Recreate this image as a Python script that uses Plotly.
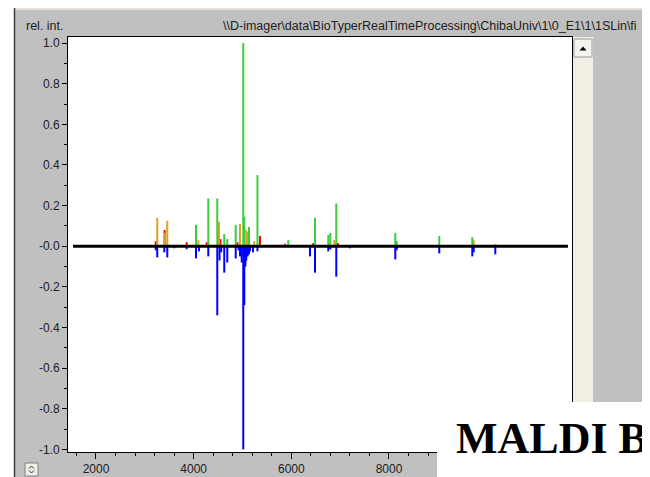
import plotly.graph_objects as go

# ---------------- data ----------------
green_mz = [4048, 4300, 4484, 4627, 4689, 4861, 5016, 5037, 5133, 5307,
            5938, 6485, 6757, 6798, 6921, 8129, 8158, 9030, 9706]
green_int = [0.105, 0.235, 0.235, 0.06, 0.035, 0.105, 1.0, 0.145, 0.095, 0.35,
             0.03, 0.14, 0.055, 0.065, 0.21, 0.065, 0.025, 0.05, 0.045]

orange_mz = [3255, 3405, 3460, 4095, 4519, 4949, 5078, 5107, 5242, 6880, 9735, 10177]
orange_int = [0.14, 0.065, 0.125, 0.03, 0.12, 0.11, 0.08, 0.07, 0.025, 0.03, 0.03, 0.01]

red_mz = [3223, 3405, 3857, 4267, 4550, 4898, 5358, 5870, 6450, 6956]
red_int = [0.025, 0.08, 0.02, 0.02, 0.035, 0.02, 0.05, 0.012, 0.015, 0.015]

blue_mz = [3223, 3255, 3399, 3460, 3603, 3857, 4048, 4109, 4300, 4484, 4530, 4565,
           4627, 4689, 4861, 4920, 4949, 4984, 5016, 5037, 5060, 5078, 5107, 5133,
           5154, 5215, 5307, 6382, 6485, 6757, 6798, 6921, 7201, 8129, 8158, 9030,
           9706, 9735, 10177]
blue_int = [-0.02, -0.055, -0.03, -0.055, -0.01, -0.015, -0.06, -0.025, -0.05, -0.34, -0.07, -0.03,
            -0.13, -0.08, -0.06, -0.02, -0.05, -0.08, -1.0, -0.29, -0.1, -0.07, -0.05, -0.04,
            -0.025, -0.03, -0.025, -0.05, -0.13, -0.025, -0.015, -0.15, -0.01, -0.065, -0.02, -0.035,
            -0.05, -0.03, -0.04]

baseline_mz = [1530, 11665]
baseline_int = [0, 0]

x_tickvals = [2000, 4000, 6000, 8000, 10000]
x_ticktext = ["2000", "4000", "6000", "8000", "10000"]
y_tickvals = [1.0, 0.8, 0.6, 0.4, 0.2, 0.0, -0.2, -0.4, -0.6, -0.8, -1.0]
y_ticktext = ["1.0", "0.8", "0.6", "0.4", "0.2", "-0.0", "-0.2", "-0.4", "-0.6", "-0.8", "-1.0"]

path_text = r"\\D-imager\data\BioTyperRealTimeProcessing\ChibaUniv\1\0_E1\1\1SLin\fi"

# ---------------- figure ----------------
# The page has an 8px body margin, so the figure is 642x469 and sits at (8, 8).
OFF = 8
SW, SH = 650, 477            # screen size
W, H = SW - OFF, SH - OFF    # figure size
L, R, T, B = 68, 572, 37, 452  # plot area in screen pixels


def px(x):
    return (x - L) / (R - L)


def py(y):
    return (B - y) / (B - T)


UI_FONT = "Liberation Sans, Arial, sans-serif"
BAR_W = 41

fig = go.Figure()
fig.add_trace(go.Bar(x=red_mz, y=red_int, width=BAR_W, marker_color="#ff0000",
                     marker_line_width=0))
fig.add_trace(go.Bar(x=orange_mz, y=orange_int, width=BAR_W, marker_color="#dca226",
                     marker_line_width=0))
fig.add_trace(go.Bar(x=green_mz, y=green_int, width=BAR_W, marker_color="#3ccc3c",
                     marker_line_width=0))
fig.add_trace(go.Bar(x=blue_mz, y=blue_int, width=BAR_W, marker_color="#0000ff",
                     marker_line_width=0))
fig.add_trace(go.Scatter(x=baseline_mz, y=baseline_int, mode="lines",
                         line=dict(color="black", width=3)))

shapes = []
# white left strip and dark frame line
shapes.append(dict(type="rect", xref="paper", yref="paper", x0=px(0), x1=px(14),
                   y0=py(478), y1=py(0), fillcolor="white", line_width=0, layer="below"))
shapes.append(dict(type="rect", xref="paper", yref="paper", x0=px(14), x1=px(651),
                   y0=py(8), y1=py(0), fillcolor="white", line_width=0, layer="below"))
shapes.append(dict(type="rect", xref="paper", yref="paper", x0=px(14), x1=px(651),
                   y0=py(10), y1=py(8), fillcolor="#e4e0cc", line_width=0, layer="below"))
shapes.append(dict(type="line", xref="paper", yref="paper", x0=px(14.5), x1=px(14.5),
                   y0=py(478), y1=py(7), line=dict(color="#404040", width=1.5), layer="below"))
# scrollbar
shapes.append(dict(type="rect", xref="paper", yref="paper", x0=px(573), x1=px(593),
                   y0=py(402), y1=py(37), fillcolor="#f1efe4", line_width=0, layer="below"))
shapes.append(dict(type="rect", xref="paper", yref="paper", x0=px(574), x1=px(592),
                   y0=py(57), y1=py(39), fillcolor="#f4f3ee",
                   line=dict(color="#9a9a9a", width=1), layer="below"))
shapes.append(dict(type="path", xref="paper", yref="paper",
                   path="M {} {} L {} {} L {} {} Z".format(px(579.5), py(50.5), px(586.5), py(50.5),
                                                           px(583), py(46.5)),
                   fillcolor="black", line_width=0, layer="below"))
# bottom-left spinner widget
shapes.append(dict(type="rect", xref="paper", yref="paper", x0=px(25), x1=px(38),
                   y0=py(476), y1=py(463), fillcolor="#f0efe8",
                   line=dict(color="#808080", width=1), layer="below"))
shapes.append(dict(type="path", xref="paper", yref="paper",
                   path="M {} {} L {} {} L {} {}".format(px(29), py(468.5), px(31.5), py(466),
                                                         px(34), py(468.5)),
                   line=dict(color="#303030", width=1), layer="below"))
shapes.append(dict(type="path", xref="paper", yref="paper",
                   path="M {} {} L {} {} L {} {}".format(px(29), py(470.5), px(31.5), py(473),
                                                         px(34), py(470.5)),
                   line=dict(color="#303030", width=1), layer="below"))
# white slide area covering bottom-right
shapes.append(dict(type="rect", xref="paper", yref="paper", x0=px(437), x1=px(652),
                   y0=py(479), y1=py(402), fillcolor="white", line_width=0, layer="above"))

annotations = [
    dict(text="rel. int.", xref="paper", yref="paper", x=px(24), y=py(26),
         xanchor="left", yanchor="middle", showarrow=False,
         font=dict(family=UI_FONT, size=12.5, color="#202020")),
    dict(text=path_text, xref="paper", yref="paper", x=px(221), y=py(26),
         xanchor="left", yanchor="middle", showarrow=False,
         font=dict(family=UI_FONT, size=12.5, color="#202020")),
    dict(text="<b>MALDI B</b>", xref="paper", yref="paper", x=px(454), y=py(438),
         xanchor="left", yanchor="middle", showarrow=False,
         font=dict(family="Liberation Serif, Times New Roman, serif", size=44, color="black")),
]

fig.update_layout(
    width=W, height=H, autosize=False,
    margin=dict(l=L - OFF, r=SW - R, t=T - OFF, b=SH - B, pad=0, autoexpand=False),
    paper_bgcolor="#c0c0c0",
    plot_bgcolor="white",
    barmode="overlay",
    showlegend=False,
    shapes=shapes,
    annotations=annotations,
    xaxis=dict(
        range=[1427, 11748], tickmode="array", tickvals=x_tickvals, ticktext=x_ticktext,
        ticks="outside", ticklen=6, tickwidth=1, tickcolor="black",
        showline=True, linecolor="black", linewidth=1, mirror=True,
        showgrid=False, zeroline=False, automargin=False,
        minor=dict(ticks="outside", ticklen=3, tick0=0, dtick=400, tickcolor="black", showgrid=False),
        tickfont=dict(family=UI_FONT, size=12, color="#202020"),
    ),
    yaxis=dict(
        range=[-1.013, 1.03], tickmode="array", tickvals=y_tickvals, ticktext=y_ticktext,
        ticks="outside", ticklen=5, tickwidth=1, tickcolor="black",
        showline=True, linecolor="black", linewidth=1, mirror=True,
        showgrid=False, zeroline=False, automargin=False,
        minor=dict(ticks="outside", ticklen=3, tick0=0, dtick=0.1, tickcolor="black", showgrid=False),
        tickfont=dict(family=UI_FONT, size=12, color="#202020"),
    ),
)

fig.write_html("out.html")
